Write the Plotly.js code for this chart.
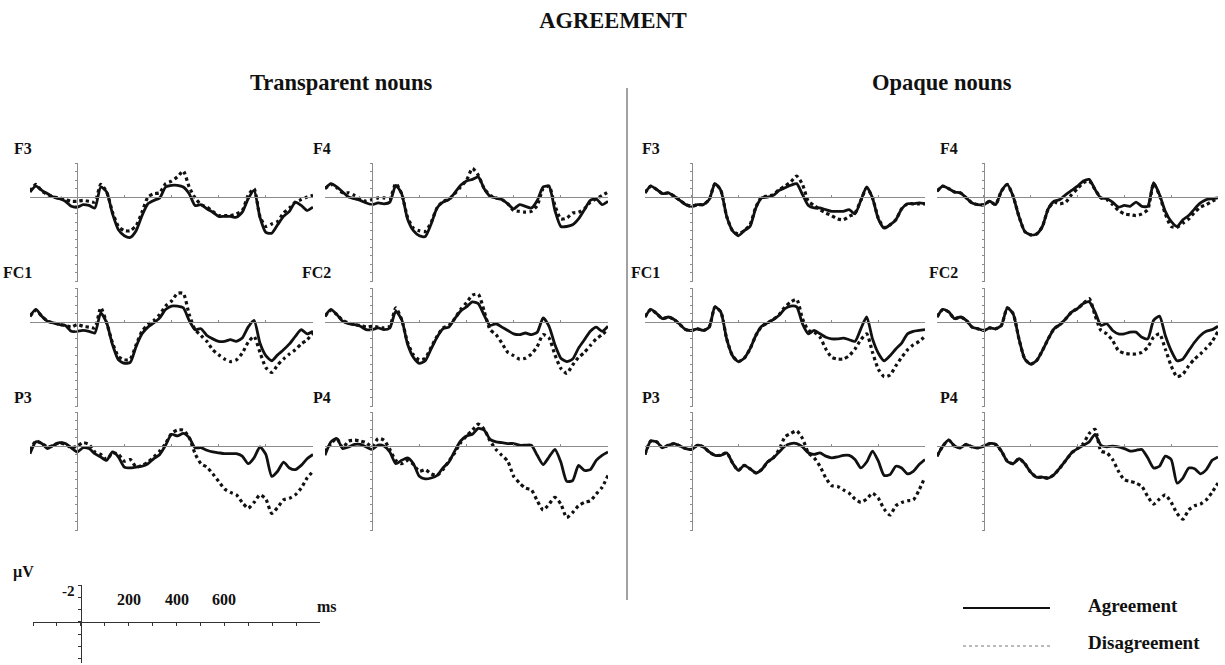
<!DOCTYPE html>
<html>
<head>
<meta charset="utf-8">
<script src="https://cdn.plot.ly/plotly-3.0.1.min.js"></script>
<style>
  html, body { margin: 0; padding: 0; background: #ffffff; }
  #chart { width: 1225px; height: 665px; }
</style>
</head>
<body>
<div id="chart"></div>
<script>
// Grand-average ERP waveforms (µV, negative plotted up), sampled every 25 ms
const timeMs = [-200,-175,-150,-125,-100,-75,-50,-25,0,25,50,75,100,125,150,175,200,225,250,275,300,325,350,375,400,425,450,475,500,525,550,575,600,625,650,675,700,725,750,775,800,825,850,875,900,925,950,975,1000];

// Transparent nouns
const transF3Agr = [-0.6,-1.3,-0.8,-0.4,0.0,0.2,0.5,1.1,1.2,0.9,1.0,1.3,-1.2,-0.6,2.0,3.9,4.6,4.8,4.0,2.2,0.8,0.4,0.1,-1.2,-1.4,-1.4,-1.2,-0.4,1.0,0.9,1.4,1.8,2.3,2.3,2.3,2.4,1.8,0.2,-0.8,2.4,4.2,4.3,3.3,2.3,1.7,0.6,1.0,1.6,1.2];
const transF3Dis = [-0.7,-1.5,-0.7,-0.3,0.0,0.1,0.3,0.5,0.5,0.4,0.5,0.6,-1.5,-0.6,1.8,3.5,4.0,4.0,3.4,1.8,0.0,-0.4,-0.5,-1.6,-1.9,-2.4,-3.1,-1.2,0.1,0.9,1.2,1.7,2.2,2.2,2.2,2.0,1.6,-0.2,-1.0,2.3,3.5,3.2,2.9,1.9,1.3,0.6,0.3,0.0,-0.2];
const transF4Agr = [-1.0,-1.6,-1.2,-0.6,0.0,0.2,0.4,0.7,0.9,0.7,0.8,0.6,-1.4,-0.4,2.6,4.0,4.6,4.7,3.2,1.3,0.6,0.3,-0.5,-1.4,-1.9,-2.1,-2.4,-1.0,-0.1,0.1,0.3,0.8,1.4,0.9,1.1,1.3,0.4,-1.2,-1.3,1.6,3.5,3.5,3.3,2.6,1.5,0.4,0.2,0.9,0.5];
const transF4Dis = [-1.0,-1.5,-1.1,-0.5,-0.5,-0.2,0.2,0.5,0.3,0.1,0.1,0.2,-1.6,-0.4,2.4,3.7,4.0,4.1,3.0,1.3,0.5,0.3,-0.4,-1.2,-2.0,-3.4,-2.6,-1.0,-0.2,0.1,0.3,0.8,1.6,1.7,1.8,1.7,1.0,-1.0,-1.3,1.0,2.6,2.5,1.9,1.8,1.4,0.6,0.2,-0.2,-0.6];
const transFC1Agr = [-0.7,-1.5,-0.7,-0.1,0.1,0.3,0.4,1.1,1.1,1.0,1.1,1.3,-1.1,0.1,2.7,4.5,4.9,4.8,2.9,1.4,0.6,0.1,-0.5,-1.5,-1.9,-1.9,-1.7,-0.2,0.9,0.8,1.6,2.0,2.3,2.3,2.1,2.3,1.9,0.6,-0.2,2.5,4.0,4.6,3.9,3.3,2.6,1.7,0.9,1.4,1.1];
const transFC1Dis = [-0.7,-1.4,-0.7,-0.1,0.1,0.3,0.4,0.6,0.3,0.5,0.6,0.7,-1.7,0.1,2.5,4.1,4.5,4.4,2.7,1.1,0.3,-0.2,-0.9,-1.9,-2.5,-3.4,-3.4,-0.9,0.9,1.6,2.3,3.3,3.9,4.4,4.7,4.5,3.7,2.4,1.7,3.6,5.4,6.0,5.1,4.4,3.8,3.3,2.6,2.1,1.3];
const transFC2Agr = [-0.7,-1.5,-0.9,-0.1,0.2,0.3,0.5,0.9,0.9,0.7,0.9,0.7,-1.3,-0.3,2.6,4.2,4.9,4.6,3.2,1.8,0.8,0.6,-0.4,-1.3,-1.8,-2.4,-2.2,-0.8,0.4,0.2,0.6,1.0,1.4,1.5,1.3,1.5,1.2,-0.5,0.5,2.7,4.3,4.7,4.4,3.1,2.1,1.1,0.6,1.1,0.5];
const transFC2Dis = [-0.7,-1.4,-0.9,-0.2,0.1,0.3,0.4,0.6,0.5,0.6,0.7,0.5,-1.7,-0.3,2.4,3.9,4.5,4.3,3.0,1.7,0.7,0.4,-0.4,-1.5,-2.3,-3.2,-3.3,-1.3,0.9,1.5,2.5,3.6,4.0,4.4,4.3,3.8,2.9,1.5,1.9,3.9,5.5,6.1,5.1,4.2,3.6,2.8,2.0,1.5,0.9];
const transP3Agr = [0.9,-0.5,-0.3,0.3,-0.1,-0.4,-0.3,0.2,0.7,0.2,0.3,0.9,1.3,1.7,0.7,1.3,2.5,2.6,2.5,2.4,2.1,1.5,1.0,-0.1,-1.4,-1.2,-1.5,-1.0,0.2,0.2,0.5,0.7,0.8,0.9,0.9,0.9,1.2,2.1,1.4,0.1,1.0,3.6,3.0,1.9,2.6,2.8,2.3,1.5,1.0];
const transP3Dis = [0.5,-0.6,-0.3,0.1,-0.1,-0.4,-0.2,0.2,0.0,-0.4,-0.2,0.7,1.0,1.6,0.8,1.0,1.8,1.6,2.5,2.3,1.9,1.3,0.6,-0.3,-1.5,-1.9,-1.9,-1.0,0.9,2.1,2.5,3.3,4.2,5.1,5.5,5.8,6.7,7.4,6.7,5.8,6.3,8.0,7.3,6.4,6.2,5.8,5.0,3.8,3.0];
const transP4Agr = [1.1,-0.5,-0.9,0.3,0.1,-0.2,-0.2,0.1,0.4,-0.1,0.0,0.7,2.1,1.7,1.4,2.1,3.6,3.9,3.8,3.5,2.6,1.9,0.6,-0.6,-1.2,-1.4,-2.1,-1.9,-0.8,-0.5,-0.4,-0.3,-0.3,-0.1,-0.1,-0.1,1.1,2.2,1.3,0.4,1.9,4.2,4.1,2.3,2.9,2.8,1.7,1.1,0.7];
const transP4Dis = [0.7,-0.3,-0.9,0.2,-0.6,-0.7,-0.6,-0.4,0.1,-0.9,-0.7,0.4,1.7,2.1,1.7,2.2,3.0,2.8,3.3,3.5,2.8,1.8,0.8,-0.4,-1.2,-1.9,-2.6,-2.0,-0.6,0.4,1.1,1.8,3.6,4.4,5.0,5.2,6.5,7.6,6.9,6.1,6.9,8.5,7.9,7.1,6.7,6.5,5.7,4.9,3.5];

// Opaque nouns
const opaqF3Agr = [-0.5,-1.3,-0.9,-0.4,-0.5,-0.1,0.4,0.9,1.1,0.9,0.9,0.3,-1.6,-0.8,2.3,4.0,4.6,4.0,3.5,1.3,0.1,0.0,-0.2,-0.8,-1.1,-1.4,-1.6,-0.3,1.0,1.3,1.3,1.5,1.7,1.7,1.7,1.5,2.0,0.4,-1.2,0.1,2.6,3.7,3.3,2.7,1.4,0.8,0.8,0.7,0.8];
const opaqF3Dis = [-0.5,-1.3,-0.9,-0.4,-0.5,-0.1,0.4,0.9,1.1,0.9,0.9,0.3,-1.6,-0.8,2.3,4.0,4.4,4.0,3.3,1.2,0.0,-0.1,-0.3,-0.9,-1.3,-1.8,-2.5,-1.5,0.5,1.0,1.5,1.9,2.2,2.6,2.7,2.3,1.9,0.4,-1.1,0.1,2.5,3.6,3.3,2.7,1.4,0.8,0.8,0.8,0.8];
const opaqF4Agr = [-0.7,-1.3,-1.0,-0.6,-0.5,0.1,0.7,0.9,0.9,0.5,0.9,-0.7,-1.5,-0.1,2.3,4.1,4.5,4.4,3.5,1.4,0.5,0.3,-0.3,-0.8,-1.3,-1.9,-2.1,-0.9,0.1,0.2,0.6,1.2,1.0,1.1,0.6,1.1,1.1,-1.7,-0.3,1.7,2.9,3.5,2.7,2.2,1.4,0.7,0.3,0.2,0.1];
const opaqF4Dis = [-0.7,-1.3,-1.0,-0.6,-0.5,0.1,0.7,0.9,0.9,0.5,0.9,-0.7,-1.5,-0.1,2.3,4.1,4.5,4.4,3.5,1.4,0.6,0.8,0.6,-0.3,-1.0,-1.7,-1.9,-0.9,0.1,0.3,0.9,1.6,2.0,2.1,2.2,2.0,1.5,-1.6,-0.2,2.0,3.5,3.6,3.1,2.6,1.8,1.2,0.9,0.5,0.2];
const opaqFC1Agr = [-0.6,-1.5,-1.0,-0.4,-0.6,-0.3,0.3,0.9,1.0,0.8,1.0,0.6,-1.8,-1.2,2.0,4.0,4.7,4.3,3.2,1.6,0.5,0.1,-0.3,-0.8,-1.6,-1.9,-1.8,0.2,1.4,1.0,1.4,1.8,2.0,2.0,1.9,2.1,2.3,0.8,-0.6,2.0,3.7,4.6,4.0,3.2,2.5,1.4,1.1,1.0,0.9];
const opaqFC1Dis = [-0.6,-1.5,-1.0,-0.4,-0.6,-0.3,0.3,0.9,1.0,0.8,1.0,0.6,-1.8,-1.2,2.0,4.0,4.7,4.3,3.2,1.6,0.5,0.1,-0.3,-0.9,-1.8,-2.4,-2.7,-0.4,1.0,1.2,1.8,3.2,4.2,4.4,4.4,4.0,3.2,2.1,1.4,3.6,5.6,6.5,6.3,5.2,4.2,3.3,2.7,2.3,1.7];
const opaqFC2Agr = [-0.6,-1.5,-1.2,-0.4,-0.6,-0.2,0.6,0.8,1.0,0.7,0.8,0.4,-1.7,-1.0,2.0,4.4,5.0,4.6,3.4,2.0,0.8,0.3,-0.4,-1.2,-1.6,-2.2,-2.4,-1.2,0.4,0.2,1.0,1.4,1.4,1.2,1.2,1.8,2.0,-0.2,-0.7,1.6,3.4,4.6,4.4,3.4,2.4,1.6,1.1,0.9,0.5];
const opaqFC2Dis = [-0.6,-1.5,-1.2,-0.4,-0.6,-0.2,0.6,0.8,1.0,0.7,0.8,0.4,-1.7,-1.0,2.0,4.4,5.0,4.6,3.4,2.0,0.8,0.3,-0.4,-1.2,-1.6,-2.2,-2.8,-0.8,1.0,1.4,2.2,3.4,3.7,3.8,3.8,3.6,3.0,1.8,1.4,3.2,5.2,6.5,6.2,5.2,4.4,3.8,3.1,2.3,1.1];
const opaqP3Agr = [1.0,-0.6,-0.5,0.2,-0.1,-0.3,0.0,0.3,0.4,-0.1,0.1,0.7,1.1,1.1,0.8,2.0,2.9,2.3,2.7,3.2,2.8,1.9,1.4,0.7,0.0,-0.3,-0.3,0.1,0.8,1.0,0.8,1.2,1.4,1.3,1.1,1.1,1.6,2.6,1.9,0.6,1.8,3.5,3.4,2.4,2.6,3.3,3.0,2.2,1.6];
const opaqP3Dis = [1.0,-0.6,-0.5,0.2,-0.1,-0.3,0.0,0.3,0.4,-0.1,0.1,0.7,1.1,1.1,0.8,2.0,2.9,2.3,2.7,3.2,2.8,1.9,1.4,0.4,-1.1,-1.5,-1.8,-0.9,0.8,1.4,2.4,3.8,4.7,4.8,5.2,5.6,6.3,6.7,6.3,5.6,6.2,7.5,8.2,7.1,6.7,6.5,6.4,5.2,3.7];
const opaqP4Agr = [1.2,0.0,-0.7,0.0,0.2,-0.2,0.1,0.2,0.0,-0.3,-0.2,0.6,1.8,2.1,1.5,2.1,3.1,3.7,3.7,3.8,3.4,2.6,1.7,0.8,0.3,-0.1,-0.5,-1.4,-0.1,0.1,0.0,0.1,0.3,0.6,0.5,0.4,1.4,2.6,2.4,1.2,1.6,4.4,3.8,2.6,2.7,3.3,2.8,1.7,1.3];
const opaqP4Dis = [1.2,0.0,-0.7,0.0,0.2,-0.2,0.1,0.2,0.0,-0.3,-0.2,0.6,1.8,2.1,1.5,2.1,3.1,3.7,3.7,3.8,3.4,2.6,1.7,0.8,0.3,-0.3,-1.5,-2.0,0.6,0.8,1.6,3.0,4.0,4.2,4.4,4.8,6.0,6.9,6.3,5.8,6.7,8.0,8.7,7.6,7.1,6.9,6.4,5.5,4.4];

// Calibration bar tick labels
const barTickLabels = [200, 400, 600];

// ---- layout helpers (pixel geometry of the 1225 x 665 canvas) ----
const W = 1225, H = 665;
const px = p => p / W;
const py = p => 1 - p / H;
const SERIF = 'Liberation Serif, Times New Roman, serif';

// Panel columns (pixel extents of the -200..1000 ms epoch) and row baselines
const colSpan = [[30, 313], [325, 608], [645, 925], [937, 1218]];
const rowBase = [197, 322, 446];
const labelRight = [34, 333, 662, 960];

const panels = [
  { name: 'F3',  col: 0, row: 0, agr: transF3Agr,  dis: transF3Dis },
  { name: 'F4',  col: 1, row: 0, agr: transF4Agr,  dis: transF4Dis },
  { name: 'FC1', col: 0, row: 1, agr: transFC1Agr, dis: transFC1Dis },
  { name: 'FC2', col: 1, row: 1, agr: transFC2Agr, dis: transFC2Dis },
  { name: 'P3',  col: 0, row: 2, agr: transP3Agr,  dis: transP3Dis },
  { name: 'P4',  col: 1, row: 2, agr: transP4Agr,  dis: transP4Dis },
  { name: 'F3',  col: 2, row: 0, agr: opaqF3Agr,   dis: opaqF3Dis },
  { name: 'F4',  col: 3, row: 0, agr: opaqF4Agr,   dis: opaqF4Dis },
  { name: 'FC1', col: 2, row: 1, agr: opaqFC1Agr,  dis: opaqFC1Dis },
  { name: 'FC2', col: 3, row: 1, agr: opaqFC2Agr,  dis: opaqFC2Dis },
  { name: 'P3',  col: 2, row: 2, agr: opaqP3Agr,   dis: opaqP3Dis },
  { name: 'P4',  col: 3, row: 2, agr: opaqP4Agr,   dis: opaqP4Dis }
];

const AXIS_GREY = '#8c8c8c';
const traces = [];
const layout = {
  width: W, height: H,
  margin: { l: 0, r: 0, t: 0, b: 0 },
  paper_bgcolor: '#ffffff', plot_bgcolor: 'rgba(0,0,0,0)',
  showlegend: false,
  title: {
    text: 'AGREEMENT', x: 613 / W, xanchor: 'center', y: py(20), yanchor: 'middle',
    font: { family: SERIF, size: 22.5, weight: 'bold', color: '#111' }
  },
  annotations: [],
  shapes: []
};

panels.forEach((p, i) => {
  const n = i + 1;
  const xa = 'xaxis' + (n === 1 ? '' : n), ya = 'yaxis' + (n === 1 ? '' : n);
  const xr = 'x' + (n === 1 ? '' : n), yr = 'y' + (n === 1 ? '' : n);
  const [c0, c1] = colSpan[p.col];
  const base = rowBase[p.row];
  layout[xa] = {
    domain: [px(c0), px(c1)], range: [-200, 1000], anchor: 'free', position: py(base),
    showline: true, linecolor: AXIS_GREY, linewidth: 1,
    ticks: 'inside', ticklen: 2, tickcolor: AXIS_GREY, tick0: 0, dtick: 200,
    showticklabels: false, showgrid: false, zeroline: false, fixedrange: true
  };
  layout[ya] = {
    domain: [py(base + 85), py(base - 34)], range: [10.1, -4.05], anchor: 'free',
    position: px(c0 + (c1 - c0) * 200 / 1200),
    showline: true, linecolor: AXIS_GREY, linewidth: 1,
    ticks: 'outside', ticklen: 2, tickcolor: AXIS_GREY, tick0: 0, dtick: 1,
    showticklabels: false, showgrid: false, zeroline: false, fixedrange: true
  };
  traces.push({
    x: timeMs, y: p.agr, xaxis: xr, yaxis: yr, mode: 'lines', hoverinfo: 'skip',
    line: { color: '#111111', width: 2.8, shape: 'spline', smoothing: 0.6 }
  });
  traces.push({
    x: timeMs, y: p.dis, xaxis: xr, yaxis: yr, mode: 'lines', hoverinfo: 'skip',
    line: { color: '#111111', width: 3.2, dash: 'dot', shape: 'spline', smoothing: 0.6 }
  });
  layout.annotations.push({
    text: p.name, xref: 'paper', yref: 'paper', x: px(labelRight[p.col]), y: py(base - 49),
    xanchor: 'right', yanchor: 'middle', showarrow: false,
    font: { family: SERIF, size: 16, weight: 'bold', color: '#111' }
  });
});

// Calibration bar (own axes)
layout.xaxis13 = {
  domain: [px(33), px(320)], range: [-200, 1000], anchor: 'free', position: py(622),
  showline: true, linecolor: '#333', linewidth: 1.4,
  ticks: 'outside', ticklen: 3, tickcolor: '#333', tickvals: [-200,-100,0,100,200,300,400,500,600,700,800,900],
  showticklabels: false, showgrid: false, zeroline: false, fixedrange: true
};
layout.yaxis13 = {
  domain: [py(663), py(585)], range: [3.35, -3.0], anchor: 'free', position: px(81),
  showline: true, linecolor: '#333', linewidth: 1.4,
  ticks: 'outside', ticklen: 3, tickcolor: '#333', tick0: 0, dtick: 1,
  showticklabels: false, showgrid: false, zeroline: false, fixedrange: true
};
traces.push({ x: [], y: [], xaxis: 'x13', yaxis: 'y13', mode: 'lines', hoverinfo: 'skip' });

const barFont = { family: SERIF, size: 16, weight: 'bold', color: '#111' };
barTickLabels.forEach(v => layout.annotations.push({
  text: String(v), xref: 'x13', yref: 'paper', x: v, y: py(599),
  xanchor: 'center', yanchor: 'middle', showarrow: false, font: barFont
}));
const headFont = { family: SERIF, size: 22.5, weight: 'bold', color: '#111' };
const keyFont = { family: SERIF, size: 19, weight: 'bold', color: '#111' };
layout.annotations.push(
  { text: '-2', xref: 'paper', yref: 'y13', x: px(77), y: -2, yshift: 6,
    xanchor: 'right', yanchor: 'middle', showarrow: false, font: { ...barFont, size: 15 } },
  { text: 'ms', xref: 'paper', yref: 'paper', x: px(327), y: py(606),
    xanchor: 'center', yanchor: 'middle', showarrow: false, font: barFont },
  { text: 'µV', xref: 'paper', yref: 'paper', x: px(23), y: py(572),
    xanchor: 'center', yanchor: 'middle', showarrow: false, font: barFont },
  // Section headings
  { text: 'Transparent nouns', xref: 'paper', yref: 'paper', x: px(341), y: py(83),
    xanchor: 'center', yanchor: 'middle', showarrow: false, font: headFont },
  { text: 'Opaque nouns', xref: 'paper', yref: 'paper', x: px(942), y: py(83),
    xanchor: 'center', yanchor: 'middle', showarrow: false, font: headFont },
  // Key
  { text: 'Agreement', xref: 'paper', yref: 'paper', x: px(1086), y: py(605),
    xanchor: 'left', yanchor: 'middle', showarrow: false, font: keyFont },
  { text: 'Disagreement', xref: 'paper', yref: 'paper', x: px(1086), y: py(642),
    xanchor: 'left', yanchor: 'middle', showarrow: false, font: keyFont }
);

layout.shapes.push(
  // divider between the two noun types
  { type: 'line', xref: 'paper', yref: 'paper', x0: px(627), x1: px(627), y0: py(88), y1: py(600),
    line: { color: '#444', width: 1 } },
  // key samples
  { type: 'line', xref: 'paper', yref: 'paper', x0: px(963), x1: px(1050), y0: py(608), y1: py(608),
    line: { color: '#111', width: 2 } },
  { type: 'line', xref: 'paper', yref: 'paper', x0: px(963), x1: px(1050), y0: py(646), y1: py(646),
    line: { color: '#777', width: 1.2, dash: 'dot' } }
);

Plotly.newPlot('chart', traces, layout, { staticPlot: true, displayModeBar: false });
</script>
</body>
</html>
